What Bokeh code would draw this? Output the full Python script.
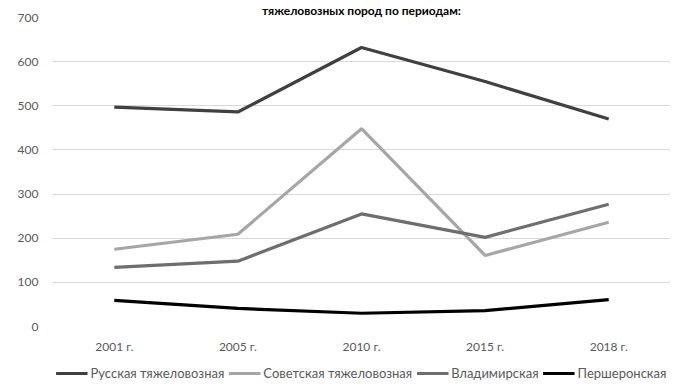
from bokeh.plotting import figure
from bokeh.layouts import column
from bokeh.models import FactorRange, Range1d, Legend, LegendItem, SingleIntervalTicker
from bokeh.embed import file_html
from bokeh.resources import INLINE

periods = ["2001 г.", "2005 г.", "2010 г.", "2015 г.", "2018 г."]
russkaya = [497, 486, 632, 555, 470]
sovetskaya = [175, 209, 448, 161, 236]
vladimirskaya = [134, 148, 255, 202, 277]
persheronskaya = [59, 41, 30, 36, 61]

series_names = ["Русская тяжеловозная", "Советская тяжеловозная", "Владимирская", "Першеронская"]
series_values = [russkaya, sovetskaya, vladimirskaya, persheronskaya]
series_colors = ["#404040", "#a6a6a6", "#6e6e6e", "#000000"]
title_text = "тяжеловозных пород по периодам:"

FONT = "Lato"

p = figure(width=681, height=360, output_backend="svg", toolbar_location=None,
           x_range=FactorRange(*periods, range_padding=0), y_range=Range1d(0, 700),
           min_border_left=52, min_border_right=11, min_border_top=17, min_border_bottom=34,
           title=title_text)
p.title.align = "center"
p.title.text_font = FONT
p.title.text_font_size = "12px"
p.title.text_font_style = "bold"
p.title.text_color = "#000000"
p.title.offset = 8
p.title.standoff = 0

p.outline_line_color = None
p.background_fill_color = "white"
p.border_fill_color = "white"

p.xgrid.grid_line_color = None
p.ygrid.grid_line_color = "#d9d9d9"
p.ygrid.grid_line_width = 1

p.yaxis.ticker = SingleIntervalTicker(interval=100)
for ax in (p.xaxis, p.yaxis):
    ax.axis_line_color = None
    ax.major_tick_line_color = None
    ax.minor_tick_line_color = None
    ax.major_tick_out = 0
    ax.major_tick_in = 0
    ax.major_label_text_font = FONT
    ax.major_label_text_font_size = "12px"
    ax.major_label_text_color = "#595959"
p.yaxis.major_label_standoff = 10
p.xaxis.major_label_standoff = 12

for vals, col in zip(series_values, series_colors):
    p.line(periods, vals, line_color=col, line_width=3.2)

# legend strip below the chart (its lines lie outside its visible range)
p2 = figure(width=681, height=25, output_backend="svg", toolbar_location=None,
            x_range=p.x_range, y_range=Range1d(1000, 1001),
            min_border_left=0, min_border_right=0, min_border_top=0, min_border_bottom=0)
p2.axis.visible = False
p2.grid.visible = False
p2.outline_line_color = None
p2.background_fill_color = "white"
p2.border_fill_color = "white"

items = []
for name, vals, col in zip(series_names, series_values, series_colors):
    r = p2.line(periods, vals, line_color=col, line_width=3.2)
    items.append(LegendItem(label=name, renderers=[r]))

legend = Legend(items=items, orientation="horizontal", location="center",
                label_text_font=FONT, label_text_font_size="13px", label_text_color="#595959",
                glyph_width=32, glyph_height=12, label_standoff=3, spacing=4,
                label_height=14, padding=2, margin=0, border_line_color=None,
                background_fill_alpha=0)
p2.add_layout(legend, "center")

layout = column(p, p2, spacing=0)
open("out.html", "w").write(file_html(layout, INLINE))
